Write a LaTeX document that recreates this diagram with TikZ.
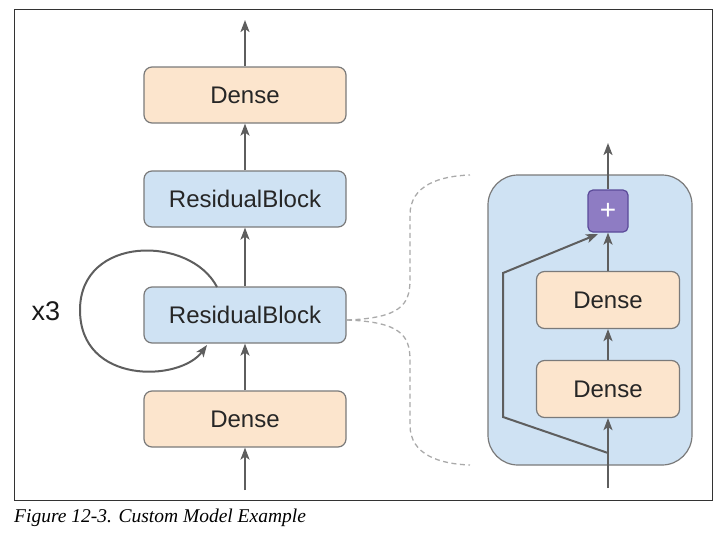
\documentclass[tikz,border=0pt]{standalone}
\usepackage{fontspec}
\setmainfont{Liberation Sans}
\newfontfamily\capfont{Liberation Serif}
\usetikzlibrary{arrows.meta}
\definecolor{densefill}{HTML}{FCE5CD}
\definecolor{resfill}{HTML}{CFE2F3}
\definecolor{plusfill}{HTML}{8E7CC3}
\definecolor{plusedge}{HTML}{5B4A99}
\definecolor{edgegrey}{HTML}{7A7A7A}
\definecolor{arrowgrey}{HTML}{5E5E5E}
\definecolor{dashgrey}{HTML}{AAAAAA}
\tikzset{
  box/.style={draw=edgegrey, line width=1.2pt, rounded corners=8pt, minimum width=202pt, minimum height=56pt, inner sep=0pt, font=\fontsize{24}{28}\selectfont, text=black!85},
  densebox/.style={box, fill=densefill},
  resbox/.style={box, fill=resfill},
  smallbox/.style={densebox, minimum width=143pt, minimum height=57pt},
  conn/.style={draw=arrowgrey, line width=2pt, -{Stealth[length=12pt,width=9pt,inset=3pt]}},
  dashline/.style={draw=dashgrey, line width=1.3pt, dash pattern=on 5pt off 3.5pt},
}
\begin{document}
\begin{tikzpicture}[x=1pt,y=-1pt]
\useasboundingbox (0,0) rectangle (721,539);
% frame
\draw[line width=1pt, black!80] (14,9) rectangle (712,500);
\node[anchor=west, inner sep=0pt, font=\capfont\itshape\fontsize{19.5}{22}\selectfont] (cap) at (14,518) {Figure 12-3. Custom Model Example};

% left column
\node[densebox] (d1) at (245,419) {Dense};
\node[resbox] (rb1) at (245,315) {ResidualBlock};
\node[resbox] (rb2) at (245,199) {ResidualBlock};
\node[densebox] (d2) at (245,95) {Dense};
\coordinate (in1) at (245,490);
\coordinate (out1) at (245,20);
\draw[conn] (in1) -- (d1.south);
\draw[conn] (d1.north) -- (rb1.south);
\draw[conn] (rb1.north) -- (rb2.south);
\draw[conn] (rb2.north) -- (d2.south);
\draw[conn] (d2.north) -- (out1);

% loop
\coordinate (ls) at (217,287);
\coordinate (le) at (207,345);
\draw[conn] (ls) .. controls (190,235) and (80,235) .. (80,310) .. controls (80,385) and (180,382) .. (le);
\node[font=\fontsize{27}{30}\selectfont, text=black!90] (x3) at (46,311) {x3};

% right panel
\node[draw=edgegrey, line width=1.2pt, fill=resfill, rounded corners=30pt, minimum width=204pt, minimum height=290pt] (cont) at (590,320) {};
\node[draw=plusedge, line width=1.2pt, fill=plusfill, rounded corners=5pt, minimum width=40pt, minimum height=42pt, inner sep=0pt, text=white, font=\fontsize{28}{30}\selectfont] (plus) at (608,211) {+};
\node[smallbox] (rd2) at (608,300) {Dense};
\node[smallbox] (rd1) at (608,389) {Dense};
\coordinate (in2) at (608,488);
\coordinate (out2) at (608,143);
\coordinate (sk0) at (608,453);
\coordinate (sk1) at (503,417);
\coordinate (sk2) at (503,273);
\coordinate (sk3) at (598,234);
\draw[conn] (in2) -- (rd1.south);
\draw[conn] (rd1.north) -- (rd2.south);
\draw[conn] (rd2.north) -- (plus.south);
\draw[conn] (plus.north) -- (out2);
\draw[conn, rounded corners=0pt] (sk0) -- (sk1) -- (sk2) -- (sk3);

% dashed brace
\coordinate (bm) at (347,320);
\coordinate (bt) at (470,175);
\coordinate (bb) at (470,465);
\draw[dashline] (bm) .. controls (400,318) and (410,305) .. (410,280) -- (410,215) .. controls (410,185) and (440,176) .. (bt);
\draw[dashline] (bm) .. controls (400,322) and (410,335) .. (410,360) -- (410,425) .. controls (410,455) and (440,464) .. (bb);
\end{tikzpicture}
\end{document}
